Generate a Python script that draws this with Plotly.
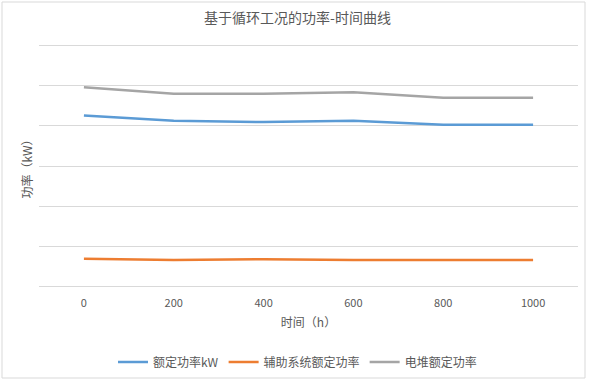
import plotly.graph_objects as go

hours = ["0", "200", "400", "600", "800", "1000"]
rated_power = [42.5, 41.2, 40.9, 41.2, 40.2, 40.2]
aux_power = [7.0, 6.7, 6.9, 6.7, 6.7, 6.7]
stack_power = [49.5, 47.9, 47.9, 48.3, 46.9, 46.9]

names = ["额定功率kW", "辅助系统额定功率", "电堆额定功率"]
colors = ["#5B9BD5", "#ED7D31", "#A5A5A5"]
series = [rated_power, aux_power, stack_power]

FONT = "Noto Sans CJK SC"

fig = go.Figure()
for n, c, s in zip(names, colors, series):
    fig.add_trace(go.Scatter(x=hours, y=s, name=n, mode="lines",
                             line=dict(color=c, width=2.5)))

W, H = 595, 381
L, R, T, B = 39, 17, 43, 92
pw, ph = W - L - R, H - T - B
ybot = T + ph

fig.update_layout(
    width=W, height=H,
    margin=dict(l=L, r=R, t=T, b=B, autoexpand=False),
    paper_bgcolor="white", plot_bgcolor="white",
    font=dict(family=FONT, color="#595959", size=11),
    title=dict(text="基于循环工况的功率-时间曲线", x=0.5, xanchor="center",
               y=1 - 18 / H, yanchor="middle",
               font=dict(size=14, color="#595959", family=FONT)),
    showlegend=True,
    legend=dict(orientation="h", xref="container", x=0.5, xanchor="center",
                y=-(362 - ybot) / ph, yanchor="middle",
                font=dict(size=12, color="#595959"), itemwidth=30),
    xaxis=dict(type="category", range=[-0.5, 5.5], showgrid=False,
               zeroline=False, showline=False, automargin=False,
               ticks="outside", ticklen=4, tickcolor="rgba(0,0,0,0)",
               tickfont=dict(size=11, color="#595959"),
               title=dict(text="时间（h）", standoff=9,
                          font=dict(size=12, color="#595959"))),
    yaxis=dict(range=[-0.5, 60.5], tickvals=[0, 10, 20, 30, 40, 50, 60],
               showticklabels=False, automargin=False,
               showgrid=True, gridcolor="#D9D9D9", gridwidth=1,
               zeroline=False, showline=False,
               title=dict(text="功率（kW）", standoff=2,
                          font=dict(size=12, color="#595959"))),
)

# faint chart border
fig.add_shape(type="rect", xref="paper", yref="paper",
              x0=(2 - L) / pw, x1=(585 - L) / pw,
              y0=-(378 - ybot) / ph, y1=1 + (T - 2) / ph,
              line=dict(color="#D9D9D9", width=1), layer="below")

fig.write_html("out.html", config={"displayModeBar": False},
               post_script="document.body.style.margin='0';")
